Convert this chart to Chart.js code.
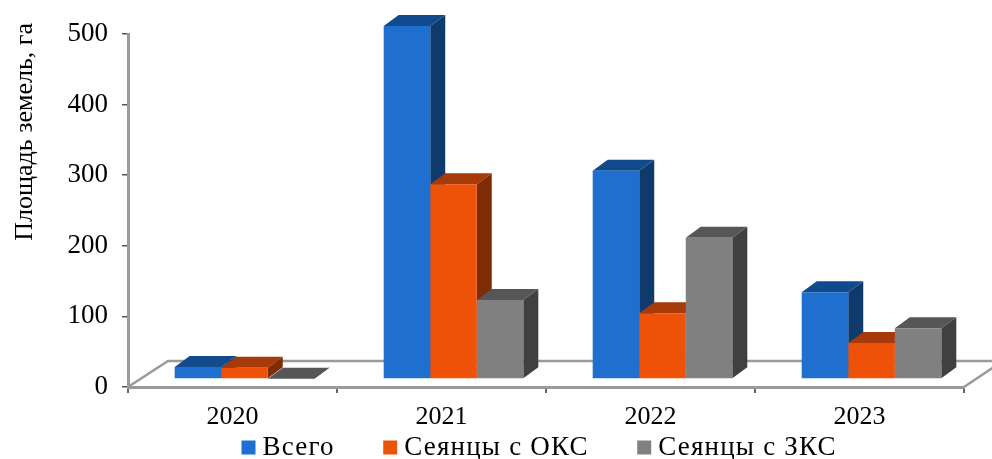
<!DOCTYPE html>
<html><head><meta charset="utf-8">
<script src="https://cdn.jsdelivr.net/npm/chart.js@4/dist/chart.umd.min.js"></script>
<style>html,body{margin:0;padding:0;background:#fff}#w{width:992px;height:459px}canvas{filter:blur(0.4px)}</style>
</head><body><div id="w"><canvas id="c" width="992" height="459"></canvas></div>
<script>
const categories = ['2020','2021','2022','2023'];
const seriesNames = ['Всего','Сеянцы с ОКС','Сеянцы с ЗКС'];
const vsego = [17,500,295,123];
const oks = [16,276,93,51];
const zks = [0.5,112,200,72];
const yTicks = [0,100,200,300,400,500];
const yTitle = 'Площадь земель, га';
const fronts = ['#1F6FD0','#EE5208','#808080'];
const tops = ['#124A8E','#A63A08','#565656'];
const sides = ['#0E3A6C','#7E2C05','#404040'];
const DX=15, DY=11, SHIFTX=12, SHIFTY=-8;
const serif='"Liberation Serif"';
const SPACING='1.2px';
const depth = {
  id:'depth',
  beforeLayout(chart){
    const lg=chart.legend;
    if(lg && !lg._wrapped){
      lg._wrapped=true;
      const fit=lg.fit, draw=lg.draw, c=chart.ctx;
      lg.fit=function(){c.save();c.letterSpacing=SPACING;fit.call(this);c.restore();this.height=30;};
      lg.draw=function(){c.save();c.letterSpacing=SPACING;draw.call(this);c.restore();};
    }
  },
  afterLayout(chart){
    const lg=chart.legend, y=chart.scales.y, c=chart.ctx;
    lg.left=193; lg.top=379;
    if(!y._wrapped){
      y._wrapped=true;
      const dt=y.drawTitle;
      y.drawTitle=function(){c.save();c.translate(0,-11);dt.call(this);c.restore();};
    }
  },
  beforeDatasetsDraw(chart){
    const {ctx,chartArea:a}=chart;
    ctx.save();ctx.strokeStyle='#9a9a9a';ctx.lineWidth=2.5;
    ctx.beginPath();
    ctx.moveTo(a.left,a.bottom);ctx.lineTo(a.left+40,a.bottom-26);ctx.lineTo(992,a.bottom-26);
    ctx.moveTo(a.right,a.bottom);ctx.lineTo(a.right+30,a.bottom-20);
    ctx.stroke();
    ctx.translate(SHIFTX,SHIFTY);
    chart.data.datasets.forEach((d,i)=>{
      chart.getDatasetMeta(i).data.forEach(b=>{
        const l=b.x-b.width/2,r=b.x+b.width/2,t=b.y,bt=b.base;
        ctx.fillStyle=sides[i];ctx.beginPath();
        ctx.moveTo(r,t);ctx.lineTo(r+DX,t-DY);ctx.lineTo(r+DX,bt-DY);ctx.lineTo(r,bt);ctx.closePath();ctx.fill();
        ctx.fillStyle=tops[i];ctx.beginPath();
        ctx.moveTo(l,t);ctx.lineTo(l+DX,t-DY);ctx.lineTo(r+DX,t-DY);ctx.lineTo(r,t);ctx.closePath();ctx.fill();
      });
    });
    ctx.restore();
  },
  beforeDatasetDraw(chart){chart.ctx.save();chart.ctx.translate(SHIFTX,SHIFTY);},
  afterDatasetDraw(chart){chart.ctx.restore();}
};
const sets=[vsego,oks,zks].map((d,i)=>({label:seriesNames[i],data:d,backgroundColor:fronts[i],borderWidth:0,clip:false,categoryPercentage:0.668,barPercentage:1}));
new Chart(document.getElementById('c'),{
  type:'bar',
  data:{labels:categories,datasets:sets},
  plugins:[depth],
  options:{
    responsive:false,animation:false,
    layout:{padding:{top:34,right:28,left:0,bottom:0}},
    plugins:{
      tooltip:{enabled:false},
      legend:{position:'bottom',align:'start',labels:{color:'#000',font:{family:serif,size:27},boxWidth:1,boxHeight:1,padding:55,
        generateLabels(ch){return Chart.defaults.plugins.legend.labels.generateLabels(ch).map(it=>({...it,lineWidth:13,strokeStyle:it.fillStyle,fontColor:'#000'}));}}}
    },
    scales:{
      x:{grid:{drawOnChartArea:false,color:'#666',tickLength:6,lineWidth:2},border:{color:'#9a9a9a',width:3},
        ticks:{color:'#000',font:{family:serif,size:26},padding:9,maxRotation:0},
        afterFit(s){s.height=42;}},
      y:{min:0,max:500,grid:{drawOnChartArea:false,color:'#555',tickLength:6,lineWidth:1.5},border:{color:'#9a9a9a',width:3},
        afterBuildTicks(s){s.ticks=yTicks.map(v=>({value:v}));},
        ticks:{color:'#000',font:{family:serif,size:27},padding:14},
        title:{display:true,text:yTitle,color:'#000',align:'end',font:{family:serif,size:26},padding:{top:10,bottom:0}},
        afterFit(s){s.width=128;}}
    }
  }
});
</script></body></html>
